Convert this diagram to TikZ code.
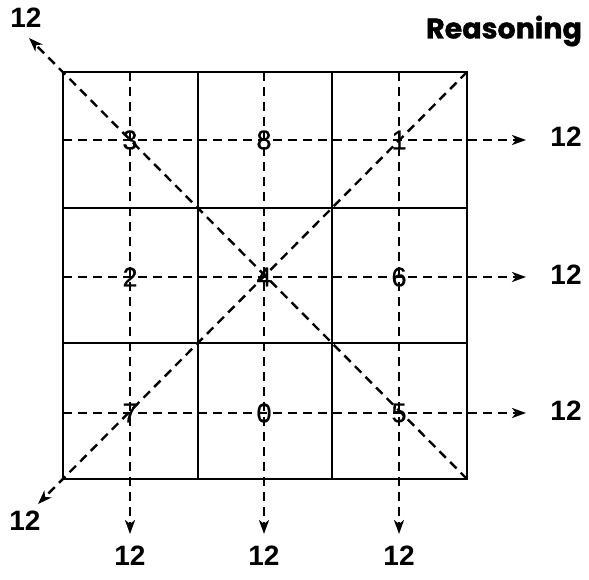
\documentclass[tikz,border=0pt]{standalone}
\usepackage{fontspec}
\setmainfont{Liberation Sans}
\newfontfamily\titlefont{Poppins}[BoldFeatures={FakeBold=1.2}]
\newfontfamily\numfont{Liberation Sans}[FakeBold=0.6]
\usetikzlibrary{arrows.meta}
\begin{document}
\begin{tikzpicture}[x=1pt,y=-1pt,
  gridline/.style={line width=1.8pt},
  arr/.style={line width=2.4pt, dash pattern=on 9pt off 6pt, -{Stealth[length=14pt,width=10pt,inset=4pt]}},
  num/.style={font=\fontsize{27}{27}\numfont, inner sep=0pt},
  lbl/.style={font=\fontsize{28}{28}\selectfont\bfseries, inner sep=0pt},
  ttl/.style={font=\fontsize{28.5}{28.5}\titlefont\bfseries, inner sep=0pt}]
\useasboundingbox (0,0) rectangle (589,580);
% grid
\coordinate (tl) at (63,72);
\coordinate (tr) at (467,72);
\coordinate (bl) at (63,479);
\coordinate (br) at (467,479);
\draw[gridline] (tl) rectangle (br);
\draw[gridline] (197.7,72) -- (197.7,479);
\draw[gridline] (332.3,72) -- (332.3,479);
\draw[gridline] (63,207.7) -- (467,207.7);
\draw[gridline] (63,343.3) -- (467,343.3);
% title
\node[ttl] (title) at (504,31) {Reasoning};
% sum labels
\node[lbl] (r1) at (566,137) {12};
\node[lbl] (r2) at (566,275) {12};
\node[lbl] (r3) at (566,411) {12};
\node[lbl] (c1) at (130,556) {12};
\node[lbl] (c2) at (264,556) {12};
\node[lbl] (c3) at (399,556) {12};
\node[lbl] (d1) at (26,18) {12};
\node[lbl] (d2) at (25,521) {12};
% arrow tips and starts
\coordinate (hs1) at (63,140);
\coordinate (hs2) at (63,277);
\coordinate (hs3) at (63,413);
\coordinate (he1) at (526,140);
\coordinate (he2) at (526,277);
\coordinate (he3) at (526,413);
\coordinate (vs1) at (130,72);
\coordinate (vs2) at (264,72);
\coordinate (vs3) at (399,72);
\coordinate (ve1) at (130,534);
\coordinate (ve2) at (264,534);
\coordinate (ve3) at (399,534);
\coordinate (dt1) at (29,38);
\coordinate (dt2) at (38,504);
% arrows
\draw[arr] (hs1) -- (he1);
\draw[arr] (hs2) -- (he2);
\draw[arr] (hs3) -- (he3);
\draw[arr] (vs1) -- (ve1);
\draw[arr] (vs2) -- (ve2);
\draw[arr] (vs3) -- (ve3);
\draw[arr] (br) -- (dt1);
\draw[arr] (tr) -- (dt2);
% cell numbers
\node[num] (n3) at (130,140) {3};
\node[num] (n8) at (264,140) {8};
\node[num] (n1) at (399,140) {1};
\node[num] (n2) at (130,277) {2};
\node[num] (n4) at (264,277) {4};
\node[num] (n6) at (399,277) {6};
\node[num] (n7) at (130,413) {7};
\node[num] (n0) at (264,413) {0};
\node[num] (n5) at (399,413) {5};
\end{tikzpicture}
\end{document}
